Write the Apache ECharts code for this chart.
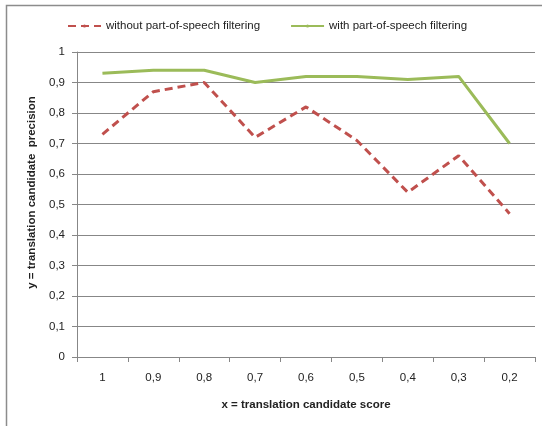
<!DOCTYPE html>
<html><head><meta charset="utf-8">
<script src="https://cdn.jsdelivr.net/npm/echarts@6/dist/echarts.min.js"></script>
<style>html,body{margin:0;padding:0;background:#fff}#c{width:542px;height:426px}</style>
</head><body><div id="c"></div>
<script>
const categories = ['1','0,9','0,8','0,7','0,6','0,5','0,4','0,3','0,2'];
const withoutPOS = [0.73, 0.87, 0.90, 0.72, 0.82, 0.71, 0.54, 0.66, 0.47];
const withPOS = [0.93, 0.94, 0.94, 0.90, 0.92, 0.92, 0.91, 0.92, 0.70];
const seriesNames = ['without part-of-speech filtering', 'with part-of-speech filtering'];
const xTitle = 'x = translation candidate score';
const yTitle = 'y = translation candidate  precision';

const FONT = 'Liberation Sans';
const FS = 11.5;
const chart = echarts.init(document.getElementById('c'), null, {renderer:'canvas'});
chart.setOption({
  animation: false,
  textStyle: {fontFamily: FONT},
  graphic: [
    {type:'rect', shape:{x:6.5, y:5.5, width:600, height:600}, style:{fill:'none', stroke:'#8c8c8c', lineWidth:1.5}, z:-1}
  ],
  legend: {
    top: 15, left: 62, itemWidth: 33, itemHeight: 4, itemGap: 30,
    textStyle: {fontSize: FS, color:'#222', fontFamily: FONT},
    data: seriesNames
  },
  grid: {left: 77, right: 7, top: 52, bottom: 69},
  xAxis: {
    type: 'category', data: categories, boundaryGap: true,
    axisLine: {lineStyle: {color:'#878787', width:1}},
    axisTick: {show:true, length:5, lineStyle:{color:'#878787'}},
    axisLabel: {margin: 15, fontSize: FS, color:'#222', fontFamily: FONT},
    name: xTitle, nameLocation: 'middle', nameGap: 42,
    nameTextStyle: {fontWeight:'bold', fontSize: FS, color:'#222', fontFamily: FONT}
  },
  yAxis: {
    type: 'value', min: 0, max: 1, interval: 0.1,
    axisLine: {show:true, lineStyle: {color:'#878787', width:1}},
    axisTick: {show:true, length:5, lineStyle:{color:'#878787'}},
    splitLine: {lineStyle: {color:'#878787', width:1}},
    axisLabel: {margin: 12, fontSize: FS, color:'#222', fontFamily: FONT,
      formatter: v => (Math.round(v*10)%10===0 ? String(Math.round(v)) : v.toFixed(1).replace('.', ','))},
    name: yTitle, nameLocation: 'middle', nameGap: 38, nameRotate: 90,
    nameTextStyle: {fontWeight:'bold', fontSize: FS, color:'#222', fontFamily: FONT, padding:[0,0,0,24]}
  },
  series: [
    {name: seriesNames[0], type:'line', data: withoutPOS, symbol:'none',
     itemStyle:{color:'#C0504D'},
     lineStyle:{color:'#C0504D', width:3, type:[8,5]}},
    {name: seriesNames[1], type:'line', data: withPOS, symbol:'none',
     itemStyle:{color:'#9BBB59'},
     lineStyle:{color:'#9BBB59', width:3}}
  ]
});
</script></body></html>
